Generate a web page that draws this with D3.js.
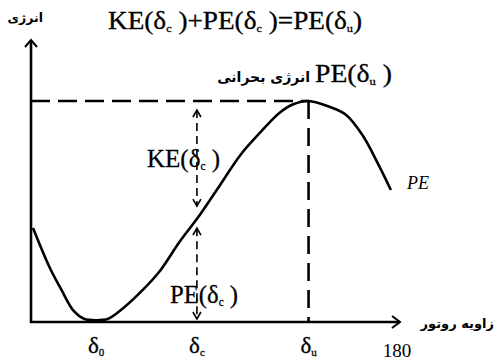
<!DOCTYPE html>
<html>
<head>
<meta charset="utf-8">
<script src="https://cdn.jsdelivr.net/npm/d3@7"></script>
<style>
  html, body { margin: 0; padding: 0; background: #fff; }
  svg { display: block; }
  .serif { font-family: "Liberation Serif", "Times New Roman", serif; fill: #000; stroke: #000; stroke-width: 0.3; }
  .fa { font-family: "DejaVu Sans", sans-serif; font-weight: bold; fill: #000; }
</style>
</head>
<body>
<svg id="chart" width="495" height="361"></svg>
<script>
// Rotor angle (degrees) and potential energy (normalised to PE(δu) = 1)
const rotorAngle = [1, 9, 15, 21, 26, 32, 38, 45, 54, 63, 73, 83, 93, 103, 113, 122, 129, 136.5, 147, 155, 163, 171, 177];
const potentialEnergy = [0.425, 0.25, 0.145, 0.05, 0.015, 0.008, 0.015, 0.06, 0.136, 0.226, 0.362, 0.484, 0.62, 0.756, 0.86, 0.945, 0.985, 1.0, 0.973, 0.937, 0.846, 0.71, 0.597];

// Marked angles on the rotor-angle axis
const tickAngles = [32, 81.6, 136.5, 180];
const tickNames  = ["δ", "δ", "δ", "180"];
const tickSubs   = ["0", "c", "u", ""];

// Energy levels used by the annotations
const criticalEnergy = 1.0;   // PE(δu)
const clearingEnergy = 0.47;  // PE(δc)
const clearingAngle = 81.6;   // δc
const unstableAngle = 136.5;  // δu

const svg = d3.select("#chart");
const x = d3.scaleLinear().domain([0, 180]).range([31, 397]);
const y = d3.scaleLinear().domain([0, 1]).range([322, 101]);

const black = "#000";

// Axes with open arrowheads
const g = svg.append("g");
g.append("line").attr("x1", x(0)).attr("x2", x(0)).attr("y1", y(0) + 1).attr("y2", 40)
  .attr("stroke", black).attr("stroke-width", 2.6);
g.append("line").attr("x1", x(0) - 1).attr("x2", 400).attr("y1", y(0)).attr("y2", y(0))
  .attr("stroke", black).attr("stroke-width", 2.6);
g.append("path").attr("d", `M${x(0) - 6},${47} L${x(0)},${40} L${x(0) + 6},${47}`)
  .attr("fill", "none").attr("stroke", black).attr("stroke-width", 2);
g.append("path").attr("d", `M${392},${y(0) - 6} L${400},${y(0)} L${392},${y(0) + 6}`)
  .attr("fill", "none").attr("stroke", black).attr("stroke-width", 2);

// Dashed guide lines at the critical energy and the unstable angle
g.append("line").attr("x1", x(0)).attr("x2", x(unstableAngle)).attr("y1", y(criticalEnergy)).attr("y2", y(criticalEnergy))
  .attr("stroke", black).attr("stroke-width", 2.6).attr("stroke-dasharray", "19,8");
g.append("line").attr("x1", x(unstableAngle)).attr("x2", x(unstableAngle)).attr("y1", y(criticalEnergy)).attr("y2", y(0))
  .attr("stroke", black).attr("stroke-width", 2.6).attr("stroke-dasharray", "18,9");

// Potential energy curve
const line = d3.line().x((d, i) => x(rotorAngle[i])).y(d => y(d)).curve(d3.curveCatmullRom.alpha(0.5));
g.append("path").datum(potentialEnergy).attr("d", line)
  .attr("fill", "none").attr("stroke", black).attr("stroke-width", 2.6).attr("stroke-linejoin", "round");

// Double-headed dashed arrows for KE(δc) and PE(δc)
function vArrow(xp, yTop, yBot) {
  g.append("line").attr("x1", xp).attr("x2", xp).attr("y1", yTop).attr("y2", yBot)
    .attr("stroke", black).attr("stroke-width", 1.6).attr("stroke-dasharray", "8,5");
  g.append("path").attr("d", `M${xp - 4},${yTop + 7} L${xp},${yTop} L${xp + 4},${yTop + 7}`)
    .attr("fill", "none").attr("stroke", black).attr("stroke-width", 1.6);
  g.append("path").attr("d", `M${xp - 4},${yBot - 7} L${xp},${yBot} L${xp + 4},${yBot - 7}`)
    .attr("fill", "none").attr("stroke", black).attr("stroke-width", 1.6);
}
vArrow(x(clearingAngle), y(criticalEnergy) + 9, y(clearingEnergy) - 12);
vArrow(x(clearingAngle), y(clearingEnergy) + 10, y(0) - 3);

// Helper for serif labels with a subscript
function subText(parent, xp, yp, parts, size, width) {
  const t = parent.append("text").attr("class", "serif").attr("x", xp).attr("y", yp)
    .attr("font-size", size);
  parts.forEach(p => {
    if (p.sub) {
      t.append("tspan").text(p.sub).attr("font-size", size * 0.45).attr("dy", size * 0.12);
    } else {
      const s = t.append("tspan").text(p.t);
      if (p.up) s.attr("dy", -size * 0.12);
    }
  });
  if (width) t.attr("textLength", width).attr("lengthAdjust", "spacingAndGlyphs");
  return t;
}

// Title equation
subText(svg, 108, 29, [
  {t: "KE(δ"}, {sub: "c"}, {t: " )+PE(δ", up: true}, {sub: "c"}, {t: " )=PE(δ", up: true}, {sub: "u"}, {t: ")", up: true}
], 25, 254);

// Annotations
subText(svg, 315, 82, [{t: "PE(δ"}, {sub: "u"}, {t: " )", up: true}], 25, 77);
subText(svg, 147, 167, [{t: "KE(δ"}, {sub: "c"}, {t: " )", up: true}], 26, 73);
subText(svg, 170, 303, [{t: "PE(δ"}, {sub: "c"}, {t: " )", up: true}], 26, 68);

svg.append("text").attr("class", "fa").attr("x", 310).attr("y", 82).attr("font-size", 14)
  .attr("text-anchor", "end").text("انرژی بحرانی");
svg.append("text").attr("class", "fa").attr("x", 43).attr("y", 22).attr("font-size", 12.5)
  .attr("text-anchor", "end").text("انرژی");
svg.append("text").attr("class", "fa").attr("x", 494).attr("y", 328).attr("font-size", 13)
  .attr("text-anchor", "end").text("زاویه روتور");

svg.append("text").attr("class", "serif").attr("x", 418).attr("y", 189).attr("font-size", 18)
  .attr("font-style", "italic").attr("text-anchor", "middle").style("stroke-width", 0).text("PE");

// Rotor-angle tick labels
tickAngles.forEach((a, i) => {
  const isNum = !tickSubs[i];
  const t = svg.append("text").attr("class", "serif").attr("x", x(a)).attr("y", isNum ? 357 : 353)
    .attr("font-size", isNum ? 19 : 23).attr("text-anchor", "middle");
  if (isNum) t.style("stroke-width", 0);
  t.append("tspan").text(tickNames[i]);
  if (tickSubs[i]) t.append("tspan").text(tickSubs[i]).attr("font-size", 11).attr("dy", 3);
});
</script>
</body>
</html>
